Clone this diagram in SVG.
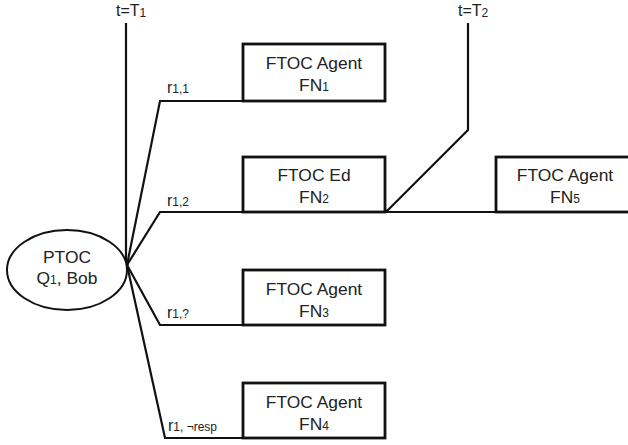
<svg xmlns="http://www.w3.org/2000/svg" width="628" height="445" viewBox="0 0 628 445">
<style>
.box{fill:#fff;stroke:#111;stroke-width:2.8}
.ln{fill:none;stroke:#111;stroke-width:2.2;stroke-linejoin:miter}
text{font-family:"Liberation Sans",Arial,sans-serif;fill:#222}
.t{font-size:17.4px;text-anchor:middle}
.s{font-size:12px}
.lb{font-size:16px}
</style>
<rect width="628" height="445" fill="#fff"/>
<g id="connectors">
<path class="ln" d="M126,23 V265"/>
<path class="ln" d="M468,23 V130 L386,212"/>
<path class="ln" d="M127,265 L160,101 H243"/>
<path class="ln" d="M127,265 L160,212 H628"/>
<path class="ln" d="M127,265 L160,325 H243"/>
<path class="ln" d="M127,265 L165,438 H243"/>
<circle cx="386" cy="211" r="1.8" fill="#111"/>
<circle cx="127" cy="264" r="1.8" fill="#111"/>
</g>
<g id="time1"><text class="lb" x="116" y="16">t=T<tspan class="s" dy="1">1</tspan></text></g>
<g id="time2"><text class="lb" x="458" y="16">t=T<tspan class="s" dy="1">2</tspan></text></g>
<g id="ptoc">
<ellipse cx="67" cy="270" rx="60" ry="40" fill="#fff" stroke="#111" stroke-width="2"/>
<text class="t" x="67" y="263">PTOC</text>
<text class="t" x="67" y="284">Q<tspan class="s">1</tspan>, Bob</text>
</g>
<g id="fn1">
<rect class="box" x="243" y="44" width="142" height="57"/>
<text class="t" x="314" y="69">FTOC Agent</text>
<text class="t" x="314" y="91">FN<tspan class="s">1</tspan></text>
</g>
<g id="fn2">
<rect class="box" x="243" y="157" width="142" height="55"/>
<text class="t" x="314" y="181">FTOC Ed</text>
<text class="t" x="314" y="203">FN<tspan class="s">2</tspan></text>
</g>
<g id="fn3">
<rect class="box" x="243" y="270" width="142" height="55"/>
<text class="t" x="314" y="295">FTOC Agent</text>
<text class="t" x="314" y="317">FN<tspan class="s">3</tspan></text>
</g>
<g id="fn4">
<rect class="box" x="243" y="383" width="142" height="55"/>
<text class="t" x="314" y="408">FTOC Agent</text>
<text class="t" x="314" y="430">FN<tspan class="s">4</tspan></text>
</g>
<g id="fn5">
<rect class="box" x="496" y="157" width="145" height="55"/>
<text class="t" x="565" y="181">FTOC Agent</text>
<text class="t" x="565" y="203">FN<tspan class="s">5</tspan></text>
</g>
<g id="labels">
<text class="lb" x="167" y="93">r<tspan class="s">1,1</tspan></text>
<text class="lb" x="167" y="206">r<tspan class="s">1,2</tspan></text>
<text class="lb" x="167" y="318">r<tspan class="s">1,?</tspan></text>
<text class="lb" x="168" y="431">r<tspan class="s">1, ¬resp</tspan></text>
</g>
</svg>
